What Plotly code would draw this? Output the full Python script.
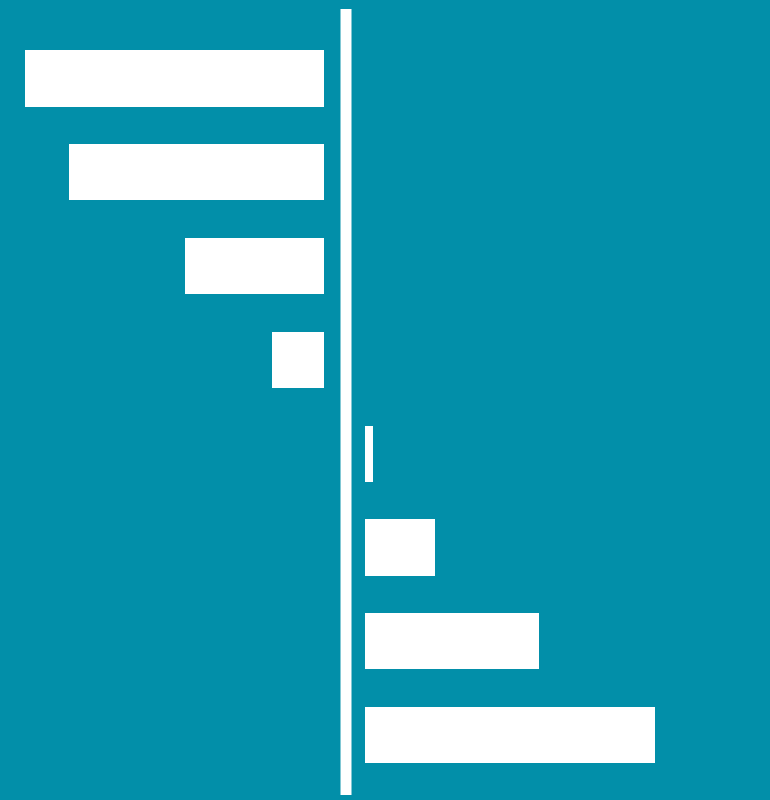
import plotly.graph_objects as go
from plotly.subplots import make_subplots

categories = ["A", "B", "C", "D", "E", "F", "G", "H"]
left_values = [10.3, 8.8, 4.8, 1.8, None, None, None, None]
right_values = [None, None, None, None, 0.28, 2.4, 6.0, 10.0]

teal = "#028FA9"
W, H = 770, 800
px_per_unit = 29

fig = make_subplots(rows=1, cols=2, shared_yaxes=True, horizontal_spacing=0)

fig.add_trace(go.Bar(y=categories, x=[-v if v is not None else None for v in left_values],
                     orientation="h", marker=dict(color="white", line=dict(width=0)),
                     width=0.6, showlegend=False), row=1, col=1)
fig.add_trace(go.Bar(y=categories, x=right_values,
                     orientation="h", marker=dict(color="white", line=dict(width=0)),
                     width=0.6, showlegend=False), row=1, col=2)

# left panel ends at 324px, right panel starts at 365px
left_end = 324
right_start = 365
fig.update_xaxes(domain=[0, left_end / W], range=[-left_end / px_per_unit, 0], row=1, col=1)
fig.update_xaxes(domain=[right_start / W, 1], range=[0, (W - right_start) / px_per_unit], row=1, col=2)
fig.update_xaxes(visible=False, showgrid=False, zeroline=False)

spacing = (735 - 78.5) / 7
fig.update_yaxes(visible=False, showgrid=False, zeroline=False,
                 range=[7 + (H - 735) / spacing, -78.5 / spacing])

# centre divider
fig.add_shape(type="line", xref="paper", yref="paper",
              x0=346 / W, x1=346 / W, y0=1 - 9 / H, y1=1 - 795 / H,
              line=dict(color="white", width=11))

fig.update_layout(width=W, height=H, margin=dict(l=0, r=0, t=0, b=0),
                  paper_bgcolor=teal, plot_bgcolor=teal, bargap=0)

fig.write_html("out.html", config={"displayModeBar": False},
               post_script="document.body.style.margin='0';")
